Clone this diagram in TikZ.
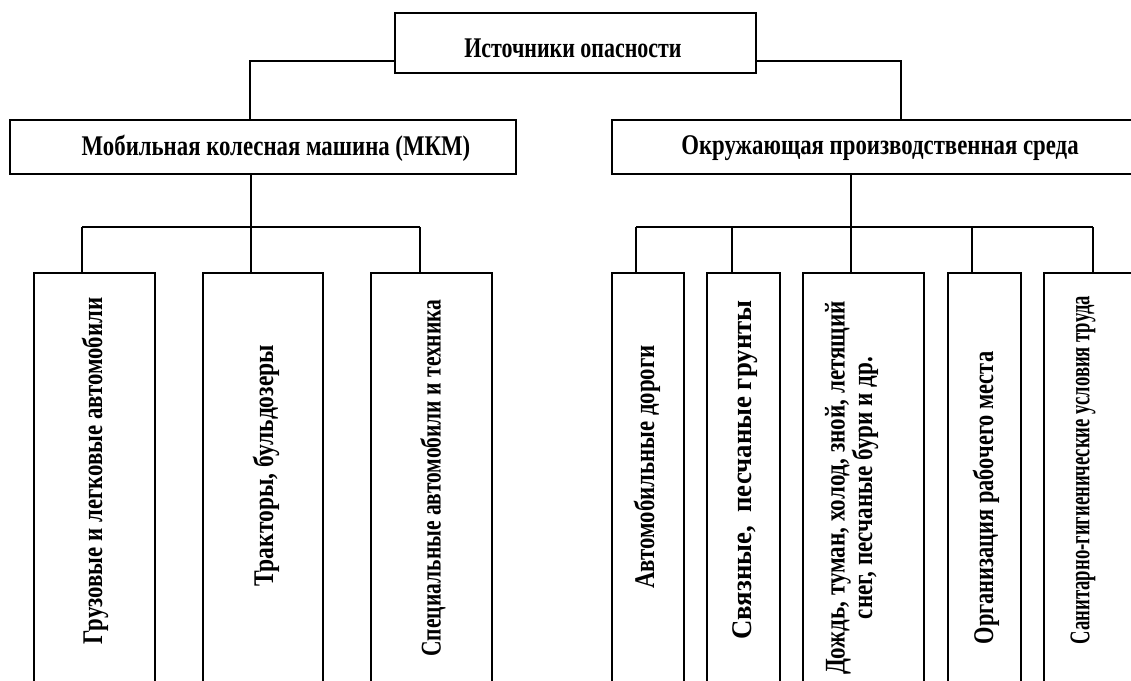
\documentclass[tikz,border=0pt]{standalone}
\usepackage{fontspec}
\setmainfont{Liberation Serif}
\usepackage{graphicx}
\usetikzlibrary{fit}
\newcommand{\cond}[2][0.78]{\scalebox{#1}[1]{#2}}
\begin{document}
\begin{tikzpicture}[x=1pt,y=-1pt,
  box/.style={draw, line width=2.2pt, rectangle, inner sep=0pt},
  lbl/.style={font=\fontsize{28.5}{23}\selectfont\bfseries, inner sep=0pt, align=center},
  vlbl/.style={lbl, rotate=90},
  conn/.style={line width=1.7pt}]
\useasboundingbox (0,0) rectangle (1131,680);
\clip (0,0) rectangle (1131,680);
% top level
\node[box, fit={(395,13) (756,73)}] (top) {};
\node[lbl] (ttop) at (573,48) {\cond[0.77]{Источники опасности}};
\node[box, fit={(10,120) (516,174)}] (mkm) {};
\node[lbl] (tmkm) at (276,148) {\cond[0.80]{Мобильная колесная машина (МКМ)}};
\node[box, fit={(612,120) (1150,174)}] (env) {};
\node[lbl] (tenv) at (880,148) {\cond[0.80]{Окружающая производственная среда}};
% left children
\node[box, fit={(34,273) (155,700)}] (l1) {};
\node[box, fit={(203,273) (323,700)}] (l2) {};
\node[box, fit={(371,273) (492,700)}] (l3) {};
\node[vlbl] (tl1) at (95,471) {\cond[0.80]{Грузовые и легковые автомобили}};
\node[vlbl] (tl2) at (266,466) {\cond[0.825]{Тракторы, бульдозеры}};
\node[vlbl] (tl3) at (433,478) {\cond[0.755]{Специальные автомобили и техника}};
% right children
\node[box, fit={(612,273) (684,700)}] (r1) {};
\node[box, fit={(707,273) (780,700)}] (r2) {};
\node[box, fit={(803,273) (924,700)}] (r3) {};
\node[box, fit={(948,273) (1021,700)}] (r4) {};
\node[box, fit={(1044,273) (1140,700)}] (r5) {};
\node[vlbl] (tr1) at (647,467) {\cond[0.80]{Автомобильные дороги}};
\node[vlbl] (tr2) at (745,470) {\cond[0.94]{Связные,\hspace{0.25em} песчаные грунты}};
\node[vlbl] (tr3) at (852,488) {\cond[0.81]{\begin{tabular}{@{}c@{}}Дождь, туман, холод, зной, летящий\\ снег, песчаные бури и др.\end{tabular}}};
\node[vlbl] (tr4) at (986,498) {\cond[0.785]{Организация рабочего места}};
\node[vlbl] (tr5) at (1083,470) {\cond[0.655]{Санитарно-гигиенические условия труда}};
% connectors top
\coordinate (cl) at (250,61);
\coordinate (cr) at (901,61);
\draw[conn] (top.west |- cl) -| (mkm.north -| cl);
\draw[conn] (top.east |- cr) -| (env.north -| cr);
% left bus
\coordinate (a1) at (82,227);
\coordinate (a2) at (251,227);
\coordinate (a3) at (420,227);
\draw[conn] (mkm.south -| a2) -- (a2);
\draw[conn] (a1) -- (a3);
\draw[conn] (a1) -- (l1.north -| a1);
\draw[conn] (a2) -- (l2.north -| a2);
\draw[conn] (a3) -- (l3.north -| a3);
% right bus
\coordinate (b1) at (636,227);
\coordinate (b2) at (732,227);
\coordinate (b3) at (851,227);
\coordinate (b4) at (972,227);
\coordinate (b5) at (1093,227);
\draw[conn] (env.south -| b3) -- (b3);
\draw[conn] (b1) -- (b5);
\draw[conn] (b1) -- (r1.north -| b1);
\draw[conn] (b2) -- (r2.north -| b2);
\draw[conn] (b3) -- (r3.north -| b3);
\draw[conn] (b4) -- (r4.north -| b4);
\draw[conn] (b5) -- (r5.north -| b5);
\end{tikzpicture}
\end{document}
